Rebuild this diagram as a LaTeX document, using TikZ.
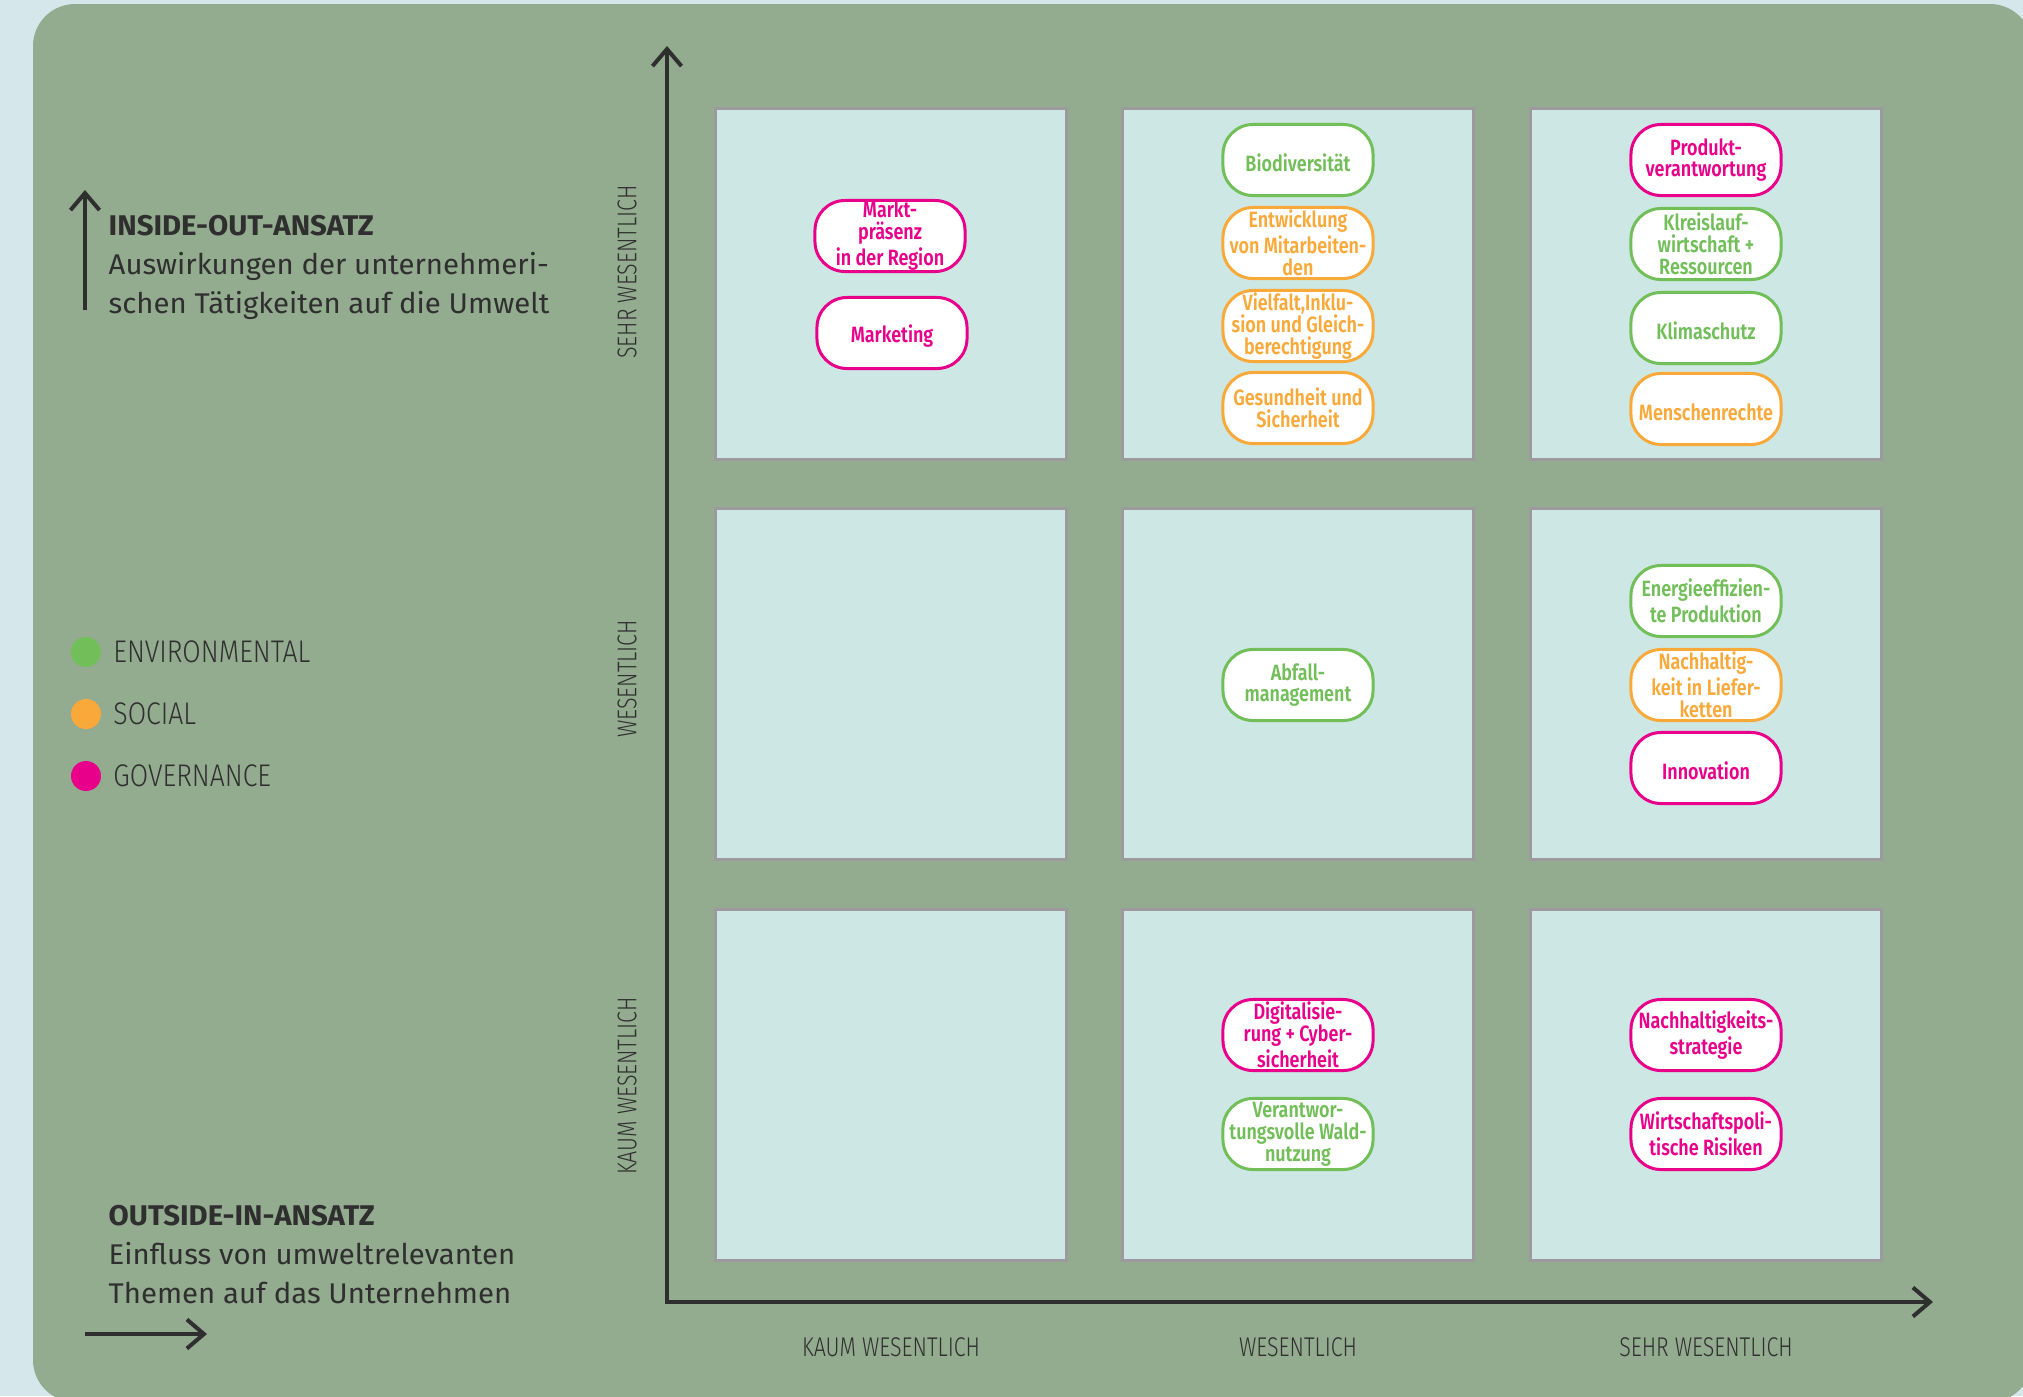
\documentclass[tikz,border=0pt]{standalone}
\usepackage{fontspec}
\setmainfont{Fira Sans}
\newfontfamily\headfont[FakeStretch=1.03]{Fira Sans}
\newfontfamily\pillfont[FakeStretch=0.81]{Fira Sans SemiBold}
\newfontfamily\axisfont[FakeStretch=0.79]{Fira Sans Light}
\newfontfamily\legfont[FakeStretch=0.85]{Fira Sans Light}
\usetikzlibrary{arrows.meta,positioning}

\definecolor{pagebg}{HTML}{D6E7EC}
\definecolor{panelgreen}{HTML}{93AB8F}
\definecolor{cellfill}{HTML}{CDE8E4}
\definecolor{cellline}{HTML}{9C9A9E}
\definecolor{envgreen}{HTML}{72BF5A}
\definecolor{socorange}{HTML}{F9A93A}
\definecolor{govmagenta}{HTML}{E8008A}
\definecolor{inkdark}{HTML}{2F2F2F}

\tikzset{
  cell/.style={draw=cellline, fill=cellfill, line width=0.03cm, minimum width=3.5cm, minimum height=3.5cm, inner sep=0pt},
  pill/.style={draw=#1, text=#1, fill=white, line width=0.03cm, rounded corners=0.3cm,
    minimum width=1.5cm, minimum height=0.71cm, inner sep=0pt, align=center,
    font=\pillfont\fontsize{6.3}{6.2}\selectfont,
    execute at begin node={\rule{0pt}{0.24cm}}},
  env/.style={pill=envgreen},
  soc/.style={pill=socorange},
  gov/.style={pill=govmagenta},
  axislabel/.style={text=inkdark, inner sep=0pt, font=\axisfont\fontsize{7.7}{8}\selectfont},
  legdot/.style={circle, fill=#1, minimum size=0.3cm, inner sep=0pt},
  legtext/.style={text=inkdark, inner sep=0pt, font=\legfont\fontsize{8.9}{9}\selectfont},
  headtext/.style={text=inkdark, inner sep=0pt, align=left, font=\headfont\fontsize{8.1}{11}\selectfont},
  axis/.style={draw=inkdark, line width=0.04cm, {Straight Barb[length=0.17cm,width=0.29cm]}-{Straight Barb[length=0.17cm,width=0.29cm]}},
  pointer/.style={draw=inkdark, line width=0.04cm, -{Straight Barb[length=0.17cm,width=0.29cm]}}
}

\begin{document}
\begin{tikzpicture}[x=0.01cm,y=-0.01cm]
\useasboundingbox (0,0) rectangle (2023,1396);
\fill[pagebg] (0,0) rectangle (2023,1396);
\fill[panelgreen, rounded corners=0.42cm] (33,4) rectangle (2032,1402);

% matrix cells
\node[cell] (c11) at (891,284) {};
\node[cell] (c12) at (1298,284) {};
\node[cell] (c13) at (1706,284) {};
\node[cell] (c21) at (891,684) {};
\node[cell] (c22) at (1298,684) {};
\node[cell] (c23) at (1706,684) {};
\node[cell] (c31) at (891,1085) {};
\node[cell] (c32) at (1298,1085) {};
\node[cell] (c33) at (1706,1085) {};

% axes
\coordinate (ytop) at (667,46);
\coordinate (xend) at (1933,1302);
\draw[axis] (ytop) |- (xend);

\node[axislabel, rotate=90] (ysehr) at (627,272) {SEHR WESENTLICH};
\node[axislabel, rotate=90] (ywes) at (627,679) {WESENTLICH};
\node[axislabel, rotate=90] (ykaum) at (627,1086) {KAUM WESENTLICH};
\node[axislabel] (xkaum) at (891,1347) {KAUM WESENTLICH};
\node[axislabel] (xwes) at (1298,1347) {WESENTLICH};
\node[axislabel] (xsehr) at (1706,1347) {SEHR WESENTLICH};

% row 1
\node[gov] (markt) at (890,236) {Markt-\\präsenz\\in der Region};
\node[gov] (marketing) at (892,333) {Marketing};
\node[env] (biodiv) at (1298,160) {Biodiversität};
\node[soc] (entw) at (1298,243) {Entwicklung\\von Mitarbeiten-\\den};
\node[soc] (vielfalt) at (1298,326) {Vielfalt,Inklu-\\sion und Gleich-\\berechtigung};
\node[soc] (gesund) at (1298,408) {Gesundheit und\\Sicherheit};
\node[gov] (produkt) at (1706,160) {Produkt-\\verantwortung};
\node[env] (kreislauf) at (1706,244) {Klreislauf-\\wirtschaft +\\Ressourcen};
\node[env] (klima) at (1706,328) {Klimaschutz};
\node[soc] (menschen) at (1706,409) {Menschenrechte};

% row 2
\node[env] (abfall) at (1298,685) {Abfall-\\management};
\node[env] (energie) at (1706,601) {Energieeffizien-\\te Produktion};
\node[soc] (liefer) at (1706,685) {Nachhaltig-\\keit in Liefer-\\ketten};
\node[gov] (innov) at (1706,768) {Innovation};

% row 3
\node[gov] (digital) at (1298,1035) {Digitalisie-\\rung + Cyber-\\sicherheit};
\node[env] (wald) at (1298,1134) {Verantwor-\\tungsvolle Wald-\\nutzung};
\node[gov] (strategie) at (1706,1035) {Nachhaltigkeits-\\strategie};
\node[gov] (risiken) at (1706,1134) {Wirtschaftspoli-\\tische Risiken};

% left side texts
\coordinate (upfrom) at (85,310);
\coordinate (upto) at (85,190);
\draw[pointer] (upfrom) -- (upto);
\node[headtext, anchor=north west] (insideout) at (108,215) {{\bfseries INSIDE-OUT-ANSATZ}\\Auswirkungen der unternehmeri-\\schen Tätigkeiten auf die Umwelt};

\node[legdot=envgreen] (envdot) at (86,652) {};
\node[legdot=socorange] (socdot) at (86,714) {};
\node[legdot=govmagenta] (govdot) at (86,776) {};
\node[legtext, right=0.11cm of envdot] (envtext) {ENVIRONMENTAL};
\node[legtext, right=0.11cm of socdot] (soctext) {SOCIAL};
\node[legtext, right=0.11cm of govdot] (govtext) {GOVERNANCE};

\node[headtext, anchor=north west] (outsidein) at (108,1205) {{\bfseries OUTSIDE-IN-ANSATZ}\\Einfluss von umweltrelevanten\\Themen auf das Unternehmen};
\coordinate (rightfrom) at (85,1334);
\coordinate (rightto) at (207,1334);
\draw[pointer] (rightfrom) -- (rightto);
\end{tikzpicture}
\end{document}
